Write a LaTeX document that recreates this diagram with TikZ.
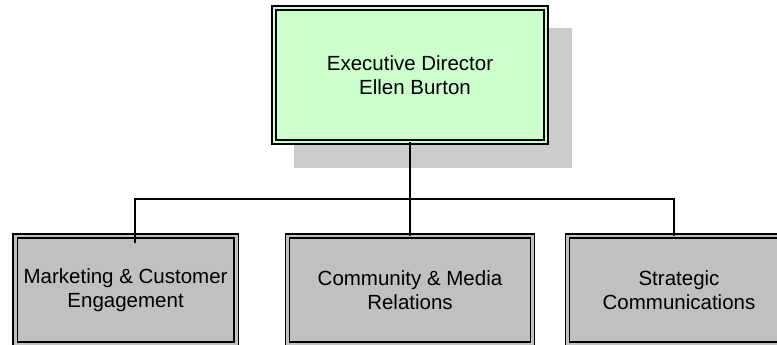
\documentclass[tikz,border=0pt]{standalone}
\usepackage{fontspec}
\setmainfont{Liberation Sans}
\definecolor{execgreen}{HTML}{CCFFCC}
\definecolor{unitgrey}{HTML}{C0C0C0}
\definecolor{shadowgrey}{HTML}{CCCCCC}
\begin{document}
\begin{tikzpicture}[x=1pt,y=-1pt,
  orgbox/.style={draw=black, line width=1.5pt, double distance=2.8pt,
    inner sep=0pt, outer sep=0pt, align=center,
    font=\fontsize{20.5}{23.5}\selectfont},
  execbox/.style={orgbox, fill=execgreen, double=execgreen},
  unitbox/.style={orgbox, fill=unitgrey, double=unitgrey},
  conn/.style={draw=black, line width=1.6pt}]
\useasboundingbox (0,0) rectangle (777,345);
\clip (0,0) rectangle (777,345);

% drop shadow behind the director box
\coordinate (shnw) at (294,28);
\coordinate (shse) at (572,168);
\fill[shadowgrey] (shnw) rectangle (shse);

% director
\node[execbox, minimum width=272pt, minimum height=134pt] (top) at (410,75)
  {Executive Director\\\hspace*{10pt}Ellen Burton};

% units
\node[unitbox, minimum width=221pt, minimum height=108pt] (b1) at (125.6,290)
  {Marketing \& Customer\\Engagement};
\node[unitbox, minimum width=245pt, minimum height=108pt] (b2) at (410,290)
  {Community \& Media\\Relations};
\node[unitbox, minimum width=223pt, minimum height=108pt] (b3) at (679,290)
  {Strategic\\Communications};

% connectors
\coordinate (j) at (410,199);
\coordinate (t1) at (135,243);
\coordinate (t3) at (674,236);
\draw[conn] (top.south) -- (j);
\draw[conn] (t1) |- (j);
\draw[conn] (j) -| (t3);
\draw[conn] (j) -- (b2.north);
\end{tikzpicture}
\end{document}
